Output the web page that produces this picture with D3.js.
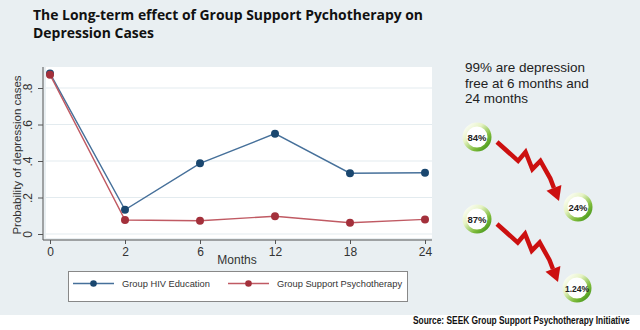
<!DOCTYPE html>
<html>
<head>
<meta charset="utf-8">
<script src="https://cdn.jsdelivr.net/npm/d3@7/dist/d3.min.js"></script>
<style>
  html, body { margin: 0; padding: 0; background: #ffffff; }
  svg { display: block; }
</style>
</head>
<body>
<svg id="chart" width="640" height="330"></svg>
<script>
// Follow-up visits (months) and probability of depression per study arm
const months = ["0", "2", "6", "12", "18", "24"];
const hivEducation = [0.880, 0.133, 0.387, 0.550, 0.333, 0.336];
const supportTherapy = [0.873, 0.077, 0.073, 0.097, 0.062, 0.080];
const seriesNames = ["Group HIV Education", "Group Support Psychotherapy"];
const yTicks = [0, 0.2, 0.4, 0.6, 0.8];

// Side panel figures
const highlightLines = ["99% are depression", "free at 6 months and", "24 months"];
const badgeStart = ["84%", "87%"];
const badgeEnd = ["24%", "1.24%"];

const svg = d3.select("#chart");
const W = 640;

// page background
svg.append("rect").attr("width", W).attr("height", 315).attr("fill", "#e9eff2");

// gradient for badge rings
const defs = svg.append("defs");
const grad = defs.append("linearGradient").attr("id", "ring")
  .attr("x1", "0").attr("y1", "0").attr("x2", "1").attr("y2", "1");
grad.append("stop").attr("offset", "0").attr("stop-color", "#ffffff");
grad.append("stop").attr("offset", "0.35").attr("stop-color", "#e6f3c4");
grad.append("stop").attr("offset", "0.7").attr("stop-color", "#7dbb3a");
grad.append("stop").attr("offset", "1").attr("stop-color", "#3b8f17");

// title
const titleFont = { family: "'Open Sans', sans-serif", size: 14.5 };
svg.append("text").attr("x", 33).attr("y", 20)
  .attr("font-family", titleFont.family).attr("font-weight", 700)
  .attr("font-size", titleFont.size).attr("fill", "#111")
  .attr("textLength", 390).attr("lengthAdjust", "spacingAndGlyphs")
  .text("The Long-term effect of Group Support Pychotherapy on");
svg.append("text").attr("x", 33).attr("y", 38)
  .attr("font-family", titleFont.family).attr("font-weight", 700)
  .attr("font-size", titleFont.size).attr("fill", "#111")
  .attr("textLength", 121).attr("lengthAdjust", "spacingAndGlyphs")
  .text("Depression Cases");

// plot region
const plot = { left: 46, right: 432, top: 67, bottom: 238 };
svg.append("rect")
  .attr("x", plot.left).attr("y", plot.top)
  .attr("width", plot.right - plot.left).attr("height", plot.bottom - plot.top)
  .attr("fill", "#ffffff");

const x = d3.scalePoint().domain(months).range([50, 425]);
const y = d3.scaleLinear().domain([0, 0.8]).range([234, 88]);

// horizontal grid
svg.append("g").selectAll("line").data(yTicks).join("line")
  .attr("x1", plot.left).attr("x2", plot.right)
  .attr("y1", d => y(d)).attr("y2", d => y(d))
  .attr("stroke", "#e3ebef").attr("stroke-width", 1);

// y axis
const fmt = d => d === 0 ? "0" : d3.format(".1f")(d).replace(/^0/, "");
const yAxis = svg.append("g").attr("transform", "translate(43,0)")
  .call(d3.axisLeft(y).tickValues(yTicks).tickSize(5).tickPadding(3).tickFormat(fmt));
yAxis.select(".domain").attr("stroke", "#555").attr("d", `M0,${plot.top}V240`);
yAxis.selectAll(".tick line").attr("stroke", "#555");
yAxis.selectAll(".tick text")
  .attr("font-family", "'Liberation Sans', Arial, sans-serif")
  .attr("font-size", 12).attr("fill", "#333")
  .attr("transform", "rotate(-90)")
  .attr("x", 0).attr("y", -11).attr("dy", 0)
  .attr("text-anchor", "middle");

// x axis
const xAxis = svg.append("g").attr("transform", "translate(0,240)")
  .call(d3.axisBottom(x).tickSize(4).tickPadding(3));
xAxis.select(".domain").attr("stroke", "#555").attr("d", `M43,0H${plot.right}`);
xAxis.selectAll(".tick line").attr("stroke", "#555");
xAxis.selectAll(".tick text")
  .attr("font-family", "'Liberation Sans', Arial, sans-serif")
  .attr("font-size", 12).attr("fill", "#333");

// axis titles
svg.append("text")
  .attr("transform", "translate(21,155) rotate(-90)")
  .attr("text-anchor", "middle")
  .attr("font-family", "'Liberation Sans', Arial, sans-serif")
  .attr("font-size", 11.5).attr("fill", "#333")
  .text("Probability of depression cases");
svg.append("text")
  .attr("x", 237).attr("y", 264).attr("text-anchor", "middle")
  .attr("font-family", "'Liberation Sans', Arial, sans-serif")
  .attr("font-size", 12).attr("fill", "#333")
  .text("Months");

// series
const series = [
  { name: seriesNames[0], values: hivEducation, line: "#46709a", dot: "#1a476f" },
  { name: seriesNames[1], values: supportTherapy, line: "#c05a63", dot: "#a3303b" }
];
const line = d3.line().x((d, i) => x(months[i])).y(d => y(d));

series.forEach(s => {
  svg.append("path").datum(s.values)
    .attr("d", line).attr("fill", "none")
    .attr("stroke", s.line).attr("stroke-width", 1.4);
  svg.append("g").selectAll("circle").data(s.values).join("circle")
    .attr("cx", (d, i) => x(months[i])).attr("cy", d => y(d))
    .attr("r", 4).attr("fill", s.dot);
});

// legend
svg.append("rect")
  .attr("x", 68.5).attr("y", 271.5).attr("width", 339).attr("height", 30)
  .attr("fill", "#ffffff").attr("stroke", "#888").attr("stroke-width", 1);
const legendX = [73, 228];
series.forEach((s, i) => {
  const g = svg.append("g").attr("transform", `translate(${legendX[i]},283.5)`);
  g.append("line").attr("x1", 0).attr("x2", 41).attr("stroke", s.line).attr("stroke-width", 1.3);
  g.append("circle").attr("cx", 20.5).attr("r", 3.3).attr("fill", s.dot);
  g.append("text").attr("x", 49).attr("y", 3.5)
    .attr("font-family", "'Liberation Sans', Arial, sans-serif")
    .attr("font-size", 9.3).attr("fill", "#333")
    .text(s.name);
});

// side panel text
svg.append("g").selectAll("text").data(highlightLines).join("text")
  .attr("x", 465).attr("y", (d, i) => 72 + i * 15.5)
  .attr("font-family", "'Liberation Sans', Arial, sans-serif")
  .attr("font-size", 13.5).attr("fill", "#222")
  .text(d => d);

// zigzag arrows between start and end badges
const arrows = [
  { from: [477, 137], to: [578, 207] },
  { from: [477, 219], to: [577, 288] }
];
// bends as fractions of the span from the arrow's start to its tip
const bends = [[0, 0], [0.34, 0.32], [0.46, 0.17], [0.57, 0.46], [0.70, 0.32], [0.86, 0.62]];
arrows.forEach(a => {
  const x0 = a.from[0] + 20, y0 = a.from[1] + 5;
  const tip = [a.to[0] - 19, a.to[1] - 6];
  const dx = tip[0] - x0, dy = tip[1] - y0;
  const pts = bends.map(([fx, fy]) => [x0 + dx * fx, y0 + dy * fy]);
  const last = pts[pts.length - 1];
  const ang = Math.atan2(tip[1] - last[1], tip[0] - last[0]);
  const hl = 14, hw = 8;
  const base = [tip[0] - hl * Math.cos(ang), tip[1] - hl * Math.sin(ang)];
  svg.append("path")
    .attr("d", d3.line()([...pts, base]))
    .attr("fill", "none").attr("stroke", "#cc1010")
    .attr("stroke-width", 4.5).attr("stroke-linejoin", "miter");
  const nx = -Math.sin(ang), ny = Math.cos(ang);
  svg.append("path")
    .attr("d", `M${tip[0]},${tip[1]}L${base[0] + nx * hw},${base[1] + ny * hw}L${base[0] - nx * hw},${base[1] - ny * hw}Z`)
    .attr("fill", "#cc1010");
});

// badges
const badges = [
  { c: arrows[0].from, label: badgeStart[0] },
  { c: arrows[0].to, label: badgeEnd[0] },
  { c: arrows[1].from, label: badgeStart[1] },
  { c: arrows[1].to, label: badgeEnd[1] }
];
badges.forEach(b => {
  svg.append("circle").attr("cx", b.c[0]).attr("cy", b.c[1]).attr("r", 12.5)
    .attr("fill", "#ffffff").attr("stroke", "url(#ring)").attr("stroke-width", 4);
  svg.append("text").attr("x", b.c[0]).attr("y", b.c[1] + 3.5)
    .attr("text-anchor", "middle")
    .attr("font-family", "'Liberation Sans', Arial, sans-serif")
    .attr("font-weight", 700).attr("font-size", b.label.length > 4 ? 8.5 : 9.5)
    .attr("fill", "#222").text(b.label);
});

// source line, condensed horizontally to fit the lower-right corner
const srcG = svg.append("g");
const src = srcG.append("text")
  .attr("x", 0).attr("y", 0)
  .attr("font-family", "'Liberation Sans Narrow', 'Liberation Sans', Arial, sans-serif")
  .attr("font-weight", 700).attr("font-size", 11).attr("fill", "#111")
  .text("Source: SEEK Group Support Psychotherapy Initiative");
const srcLen = src.node().getComputedTextLength();
srcG.attr("transform", `translate(413,324) scale(${217 / srcLen},1)`);
</script>
</body>
</html>
